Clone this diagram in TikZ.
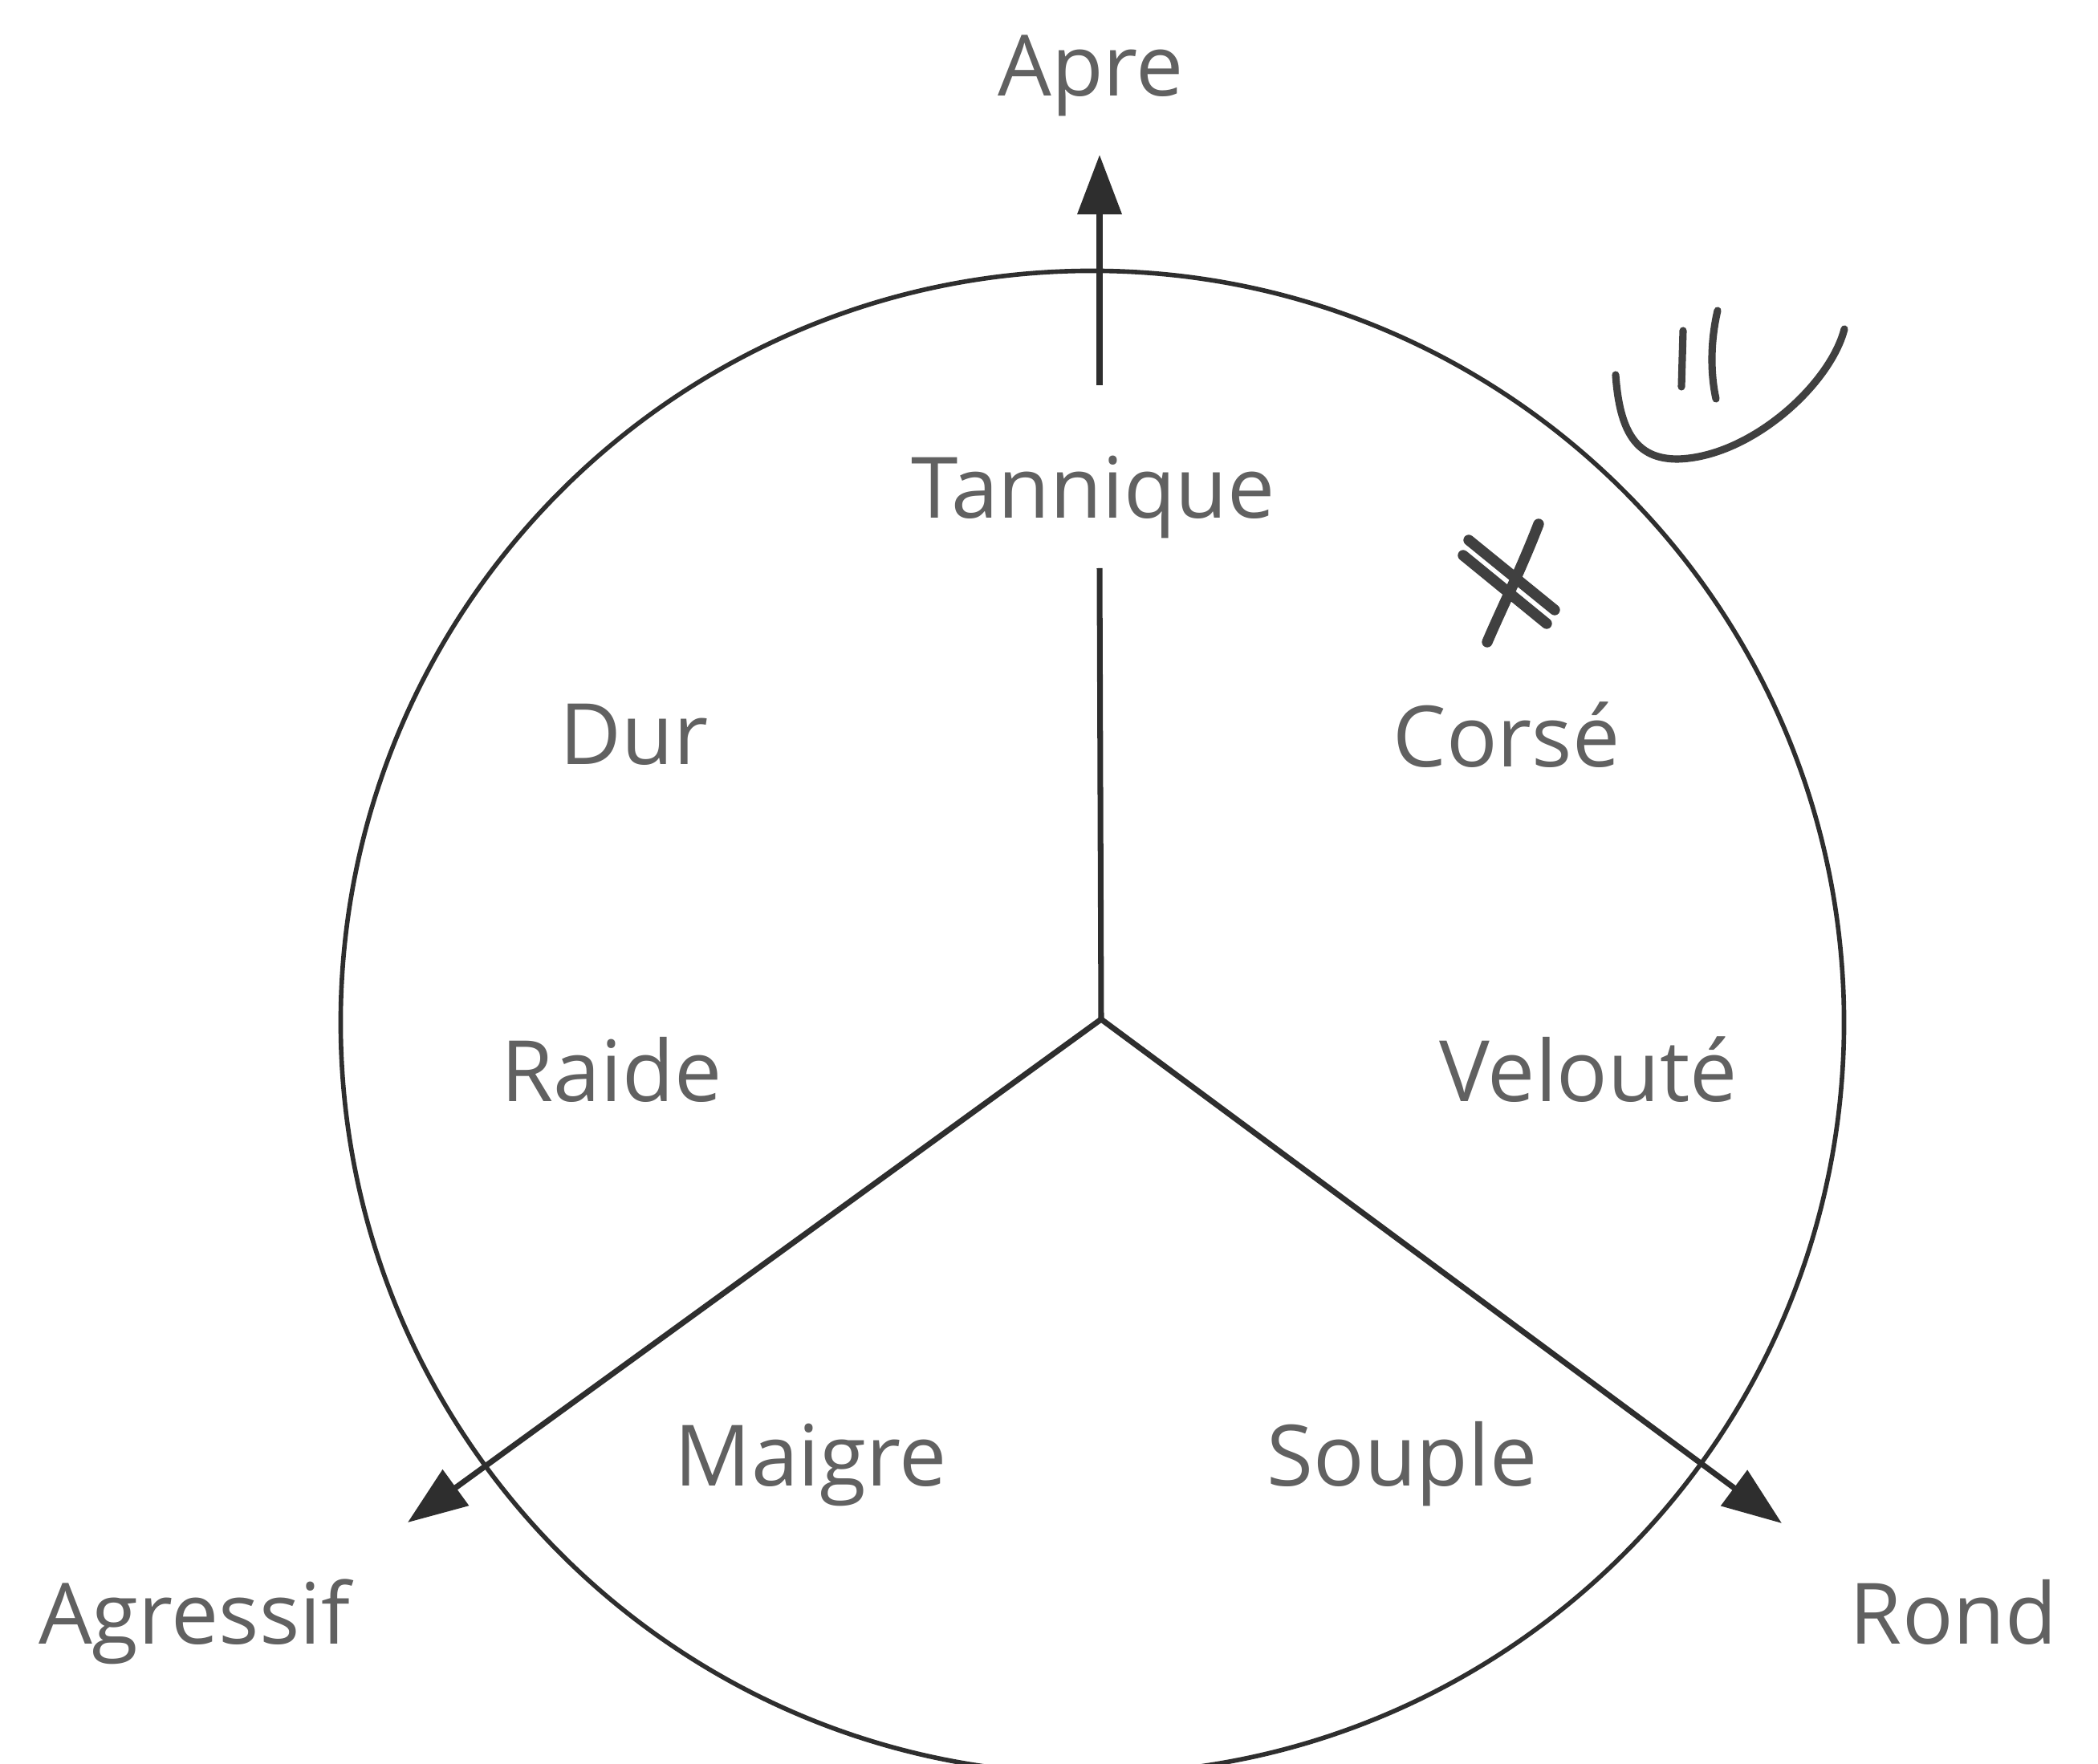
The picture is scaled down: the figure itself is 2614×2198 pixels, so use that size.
\documentclass[tikz,border=0pt]{standalone}
\usepackage{fontspec}
\setmainfont{Open Sans}
\usetikzlibrary{arrows.meta}
\begin{document}
\begin{tikzpicture}[x=0.01cm,y=-0.01cm,
  lbl/.style={anchor=base,text=black!62,font=\fontsize{30}{36}\selectfont,inner sep=0pt},
  axis/.style={draw=black!82,line width=2pt},
  arr/.style={axis,-{Triangle[length=7.4mm,width=5.4mm]}},
  hand/.style={draw=black!75,line width=2.6pt,line cap=round,line join=round}]
\clip (0,0) rectangle (2614,2198);
\fill[white] (0,0) rectangle (2614,2198);
% circle
\draw[draw=black!82,line width=1.6pt] (1361,1274) circle[radius=9.36cm];
% axes
\coordinate (c) at (1372,1270);
\coordinate (topstart) at (1370,480);
\coordinate (topend) at (1370,193);
\coordinate (upper) at (1370,708);
\coordinate (lt) at (508,1897);
\coordinate (rt) at (2220,1898);
\draw[axis] (c) -- (upper);
\draw[arr] (topstart) -- (topend);
\draw[arr] (c) -- (lt);
\draw[arr] (c) -- (rt);
% labels
\node[lbl] (apre) at (1359,120) {Apre};
\node[lbl] (tannique) at (1362,646) {Tannique};
\node[lbl] (dur) at (790,953) {Dur};
\node[lbl] (corse) at (1877,956) {Corsé};
\node[lbl] (raide) at (762,1373) {Raide};
\node[lbl] (veloute) at (1979,1373) {Velouté};
\node[lbl] (maigre) at (1010,1851) {Maigre};
\node[lbl] (souple) at (1747,1851) {Souple};
\node[lbl] (agressif) at (242,2048) {Agressif};
\node[lbl] (rond) at (2434,2048) {Rond};
% handwritten marks
\draw[hand] (2013,467) .. controls (2018,540) and (2040,572) .. (2090,572)
  .. controls (2180,570) and (2280,480) .. (2298,410);
\draw[hand] (2097,412) -- (2095,482);
\draw[hand] (2140,387) .. controls (2130,430) and (2132,470) .. (2138,497);
\draw[hand,line width=3.8pt] (1917,653) .. controls (1895,710) and (1870,760) .. (1853,800);
\draw[hand,line width=3.8pt] (1830,673) -- (1937,760);
\draw[hand,line width=3.8pt] (1823,692) -- (1927,777);
\end{tikzpicture}
\end{document}
